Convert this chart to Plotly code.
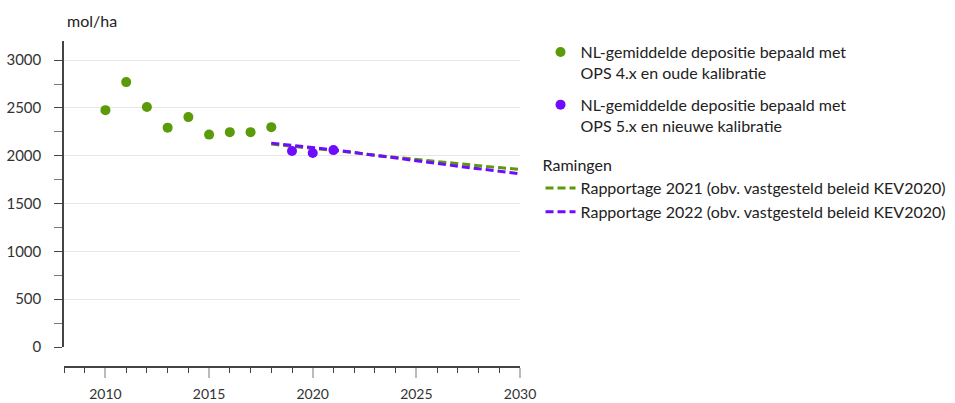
import plotly.graph_objects as go

# gemeten depositie (mol/ha)
years_old = [2010, 2011, 2012, 2013, 2014, 2015, 2016, 2017, 2018]
dep_old = [2477, 2770, 2509, 2294, 2404, 2221, 2247, 2247, 2299]

years_new = [2019, 2020, 2021]
dep_new = [2049, 2028, 2059]

# ramingen
years_proj = [2018, 2019, 2020, 2021, 2022, 2023, 2024, 2025, 2026, 2027, 2028, 2029, 2030]
proj_2021 = [2122, 2100, 2080, 2058, 2032, 2005, 1982, 1958, 1937, 1916, 1896, 1876, 1856]
proj_2022 = [2132, 2110, 2087, 2062, 2034, 2004, 1976, 1947, 1918, 1891, 1864, 1838, 1812]

GREEN = "#5b9a08"
PURPLE = "#6f0bff"
FONT = "Lato"
legend_font = dict(family=FONT, size=16, color="#222222")

fig = go.Figure()

fig.add_trace(go.Scatter(
    x=years_proj, y=proj_2021, mode="lines",
    name="Rapportage 2021 (obv. vastgesteld beleid KEV2020)",
    line=dict(color=GREEN, width=3, dash="8px,4px"),
    legend="legend2",
))
fig.add_trace(go.Scatter(
    x=years_proj, y=proj_2022, mode="lines",
    name="Rapportage 2022 (obv. vastgesteld beleid KEV2020)",
    line=dict(color=PURPLE, width=3, dash="8px,4px"),
    legend="legend2",
))
fig.add_trace(go.Scatter(
    x=years_old, y=dep_old, mode="markers",
    name="NL-gemiddelde depositie bepaald met<br>OPS 4.x en oude kalibratie",
    marker=dict(color=GREEN, size=10),
    legendgroup="m1", legendrank=1,
))
fig.add_trace(go.Scatter(
    x=years_new, y=dep_new, mode="markers",
    name="NL-gemiddelde depositie bepaald met<br>OPS 5.x en nieuwe kalibratie",
    marker=dict(color=PURPLE, size=10),
    legendgroup="m2", legendrank=2,
))

fig.update_layout(
    template="none",
    width=955, height=403,
    margin=dict(l=64, r=435, t=41, b=36, autoexpand=False),
    paper_bgcolor="white", plot_bgcolor="white",
    font=dict(family=FONT, size=15, color="#333333"),
    xaxis=dict(
        range=[2008, 2030], anchor="free", position=0, automargin=False,
        showline=True, linecolor="#444444", linewidth=1.5,
        showgrid=False, zeroline=False,
        tick0=2010, dtick=5, ticks="outside", ticklen=10, tickcolor="#bbbbbb",
        tickwidth=1.5, ticklabelstandoff=4,
        minor=dict(dtick=1, ticks="outside", ticklen=5, tickcolor="#444444", tickwidth=1),
        tickfont=dict(size=14),
    ),
    yaxis=dict(
        range=[0, 3200], domain=[0.0613, 1], automargin=False,
        showline=True, linecolor="#444444", linewidth=1.5,
        showgrid=True, gridcolor="#e6e6e6", gridwidth=1, zeroline=False,
        tick0=0, dtick=500, ticks="outside", ticklen=8, tickcolor="#444444",
        ticklabelstandoff=10,
        minor=dict(dtick=250, ticks="outside", ticklen=8, tickcolor="#777777", showgrid=False),
        tickfont=dict(size=15),
    ),
    legend=dict(
        x=1.045, xanchor="left", y=1.018, yanchor="top",
        valign="top", traceorder="grouped", tracegroupgap=8,
        font=legend_font, bgcolor="rgba(0,0,0,0)",
    ),
    legend2=dict(
        x=1.045, xanchor="left", y=0.665, yanchor="top",
        title=dict(text="Ramingen", font=legend_font, side="top"),
        font=legend_font, bgcolor="rgba(0,0,0,0)",
    ),
    annotations=[dict(
        text="mol/ha", x=0, xref="paper", xanchor="left", xshift=1,
        y=1, yref="paper", yanchor="bottom", yshift=9,
        showarrow=False, font=dict(family=FONT, size=16, color="#222222"),
    )],
)

fig.write_html("out.html", config={"displayModeBar": False},
               post_script="document.body.style.margin='0';")
